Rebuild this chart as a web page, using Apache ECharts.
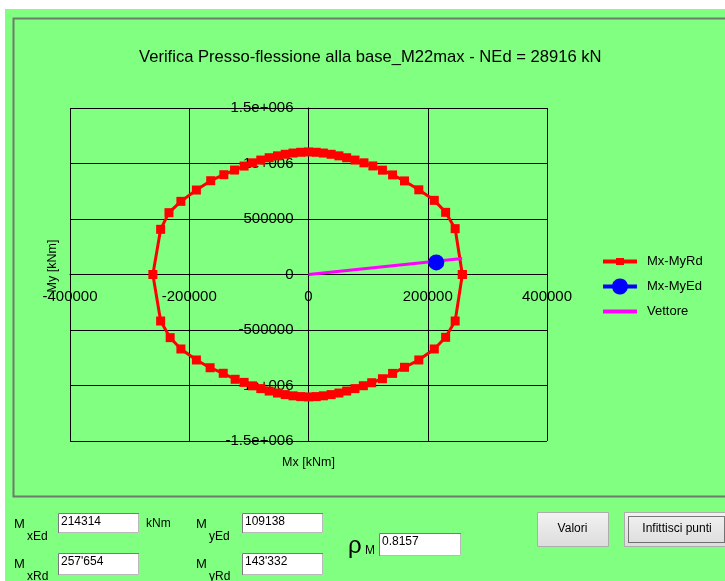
<!DOCTYPE html>
<html>
<head>
<meta charset="utf-8">
<script src="https://cdn.jsdelivr.net/npm/echarts@6/dist/echarts.min.js"></script>
<style>
html,body{margin:0;padding:0;background:#fff;}
#chart{width:725px;height:581px;}
</style>
</head>
<body>
<div id="chart"></div>
<script>
// ---- data ----
const titleText = 'Verifica Presso-flessione alla base_M22max - NEd = 28916 kN';
const seriesNames = ['Mx-MyRd', 'Mx-MyEd', 'Vettore'];
// resisting domain (Mx, My) in kNm
const domainMx = [258000, 246000, 230000, 211000, 185000, 161000, 141000, 124000, 108000, 93000, 78000, 64000, 51000, 38000, 25000, 13000, 0,
  -13000, -26000, -39000, -52000, -66000, -80000, -94000, -108000, -124000, -142000, -164000, -188000, -214000, -234000, -248000, -261000,
  -248000, -232000, -214000, -188000, -165000, -143000, -123000, -108000, -94000, -80000, -66000, -52000, -39000, -26000, -13000, 0,
  13000, 25000, 38000, 51000, 64000, 78000, 92000, 106000, 124000, 141000, 161000, 185000, 211000, 230000, 246000, 258000];
const domainMy = [0, 413000, 560000, 668000, 763000, 843000, 897000, 940000, 978000, 1006000, 1031000, 1052000, 1069000, 1083000, 1094000, 1101000, 1104000,
  1101000, 1094000, 1083000, 1069000, 1052000, 1031000, 1006000, 977000, 941000, 899000, 845000, 761000, 659000, 557000, 407000, 0,
  -419000, -569000, -671000, -770000, -840000, -890000, -944000, -972000, -1003000, -1028000, -1050000, -1068000, -1082000, -1093000, -1100000, -1103000,
  -1100000, -1093000, -1082000, -1068000, -1050000, -1028000, -1002000, -975000, -939000, -891000, -836000, -770000, -671000, -566000, -419000, 0];
// design action
const edMx = [214314];
const edMy = [109138];
// vector to the domain
const vecMx = [0, 257654];
const vecMy = [0, 143332];
// axes
const xTickValues = [-400000, -200000, 0, 200000, 400000];
const xTickLabels = ['-400000', '-200000', '0', '200000', '400000'];
const yTickValues = [-1500000, -1000000, -500000, 0, 500000, 1000000, 1500000];
const yTickLabels = ['-1.5e+006', '-1e+006', '-500000', '0', '500000', '1e+006', '1.5e+006'];
const xAxisName = 'Mx [kNm]';
const yAxisName = 'My [kNm]';
// form values
const formLabels = {MxEd: '214314', MyEd: '109138', MxRd: "257'654", MyRd: "143'332", rho: '0.8157'};
const unitText = 'kNm';
const buttonLabels = ['Valori', 'Infittisci punti'];

// ---- build ----
const FONT = 'Liberation Sans, Arial, sans-serif';
const GREEN = '#80ff80';
const zip = (a, b) => a.map((v, i) => [v, b[i]]);
const lbl = (vals, labs) => v => { const i = vals.indexOf(v); return i >= 0 ? labs[i] : ''; };

// grid geometry
const G = {left: 70, top: 108, width: 477, height: 333};
const X_MIN = -400000, X_MAX = 400000, Y_MIN = -1500000, Y_MAX = 1500000;
// axes sit on the zero lines of the other axis
const xAxisOffset = -(G.height * (0 - Y_MIN) / (Y_MAX - Y_MIN));
const yAxisOffset = -(G.width * (0 - X_MIN) / (X_MAX - X_MIN));

function textEl(x, y, txt, size, extra) {
  return {type: 'text', x: x, y: y, silent: true,
    style: Object.assign({text: txt, fill: '#000', font: size + 'px ' + FONT, textVerticalAlign: 'middle'}, extra || {})};
}
function box(x, y, w, h, txt) {
  return [
    {type: 'rect', shape: {x: x, y: y, width: w, height: h}, silent: true, style: {fill: '#fff'}},
    {type: 'polyline', shape: {points: [[x + 0.5, y + h], [x + 0.5, y + 0.5], [x + w, y + 0.5]]}, silent: true,
      style: {stroke: '#7a7a7a', lineWidth: 1, fill: null}},
    {type: 'polyline', shape: {points: [[x + w - 0.5, y + 1], [x + w - 0.5, y + h - 0.5], [x + 1, y + h - 0.5]]}, silent: true,
      style: {stroke: '#b9b9b9', lineWidth: 1, fill: null}},
    {type: 'text', x: x + 3, y: y + 3, silent: true,
      style: {text: txt, fill: '#000', font: '12px ' + FONT, textVerticalAlign: 'top'}}
  ];
}
function button(x, y, w, h, txt, focus) {
  const els = [
    {type: 'rect', shape: {x: x + 0.5, y: y + 0.5, width: w, height: h}, silent: true,
      style: {fill: {type: 'linear', x: 0, y: 0, x2: 0, y2: 1, colorStops: [{offset: 0, color: '#f2f2f2'}, {offset: 1, color: '#dcdcdc'}]},
        stroke: '#adadad', lineWidth: 1}},
    {type: 'text', x: focus ? x + 53 : x + w / 2, y: y + h / 2, silent: true,
      style: {text: txt, fill: '#000', font: '12px ' + FONT, textAlign: 'center', textVerticalAlign: 'middle'}}
  ];
  if (focus) {
    els.push({type: 'rect', shape: {x: x + 4.5, y: y + 4.5, width: 96, height: h - 8}, silent: true,
      style: {fill: null, stroke: '#000', lineWidth: 1, lineDash: [1, 1]}});
  }
  return els;
}

const graphics = [
  {type: 'rect', z: -10, shape: {x: 5, y: 9, width: 720, height: 572}, silent: true, style: {fill: GREEN}},
  {type: 'rect', z: -9, shape: {x: 13.5, y: 18.5, width: 730, height: 478}, silent: true, style: {fill: null, stroke: '#6f7a6f', lineWidth: 2}},
  {type: 'text', x: 53, y: 266, rotation: Math.PI / 2, silent: true,
    style: {text: yAxisName, fill: '#000', font: '12.5px ' + FONT, textAlign: 'center', textVerticalAlign: 'middle'}},
  textEl(14, 524, 'M', 13), textEl(27, 537, 'xEd', 12),
  textEl(146, 524, unitText, 12),
  textEl(196, 524, 'M', 13), textEl(209, 537, 'yEd', 12),
  textEl(14, 564, 'M', 13), textEl(27, 577, 'xRd', 12),
  textEl(196, 564, 'M', 13), textEl(209, 577, 'yRd', 12),
  textEl(348, 546, 'ρ', 24), textEl(365, 551, 'M', 12),
  ...box(58, 513, 81, 20, formLabels.MxEd),
  ...box(242, 513, 81, 20, formLabels.MyEd),
  ...box(58, 553, 81, 22, formLabels.MxRd),
  ...box(242, 553, 81, 22, formLabels.MyRd),
  ...box(379, 533, 82, 23, formLabels.rho),
  ...button(537, 512, 71, 34, buttonLabels[0], false),
  ...button(624, 512, 110, 34, buttonLabels[1], true)
];

// legend icons: line with marker (drawn as one filled path each)
const legendIcons = [
  'path://M0,6L13,6L13,4.5L21,4.5L21,6L34,6L34,10L21,10L21,11.5L13,11.5L13,10L0,10Z',
  'path://M0,6L9.25,6A8,8 0 0,1 24.75,6L34,6L34,10L24.75,10A8,8 0 0,1 9.25,10L0,10Z',
  'path://M0,6L34,6L34,10L0,10Z'
];

const chart = echarts.init(document.getElementById('chart'), null, {renderer: 'canvas'});
chart.setOption({
  animation: false,
  backgroundColor: '#fff',
  textStyle: {fontFamily: FONT},
  title: {text: titleText, left: 134, top: 44,
    textStyle: {fontSize: 16.6, fontWeight: 'normal', color: '#000', fontFamily: FONT}},
  legend: {orient: 'vertical', left: 598, top: 250, itemWidth: 34, itemHeight: 16, itemGap: 10.5,
    symbolKeepAspect: true,
    data: seriesNames.map((n, i) => ({name: n, icon: legendIcons[i]})),
    textStyle: {fontSize: 13, color: '#000', fontFamily: FONT, padding: [0, 0, 0, 5]}, selectedMode: false},
  grid: Object.assign({containLabel: false, outerBoundsMode: 'none'}, G),
  xAxis: {type: 'value', min: X_MIN, max: X_MAX, interval: 200000, position: 'bottom', offset: xAxisOffset,
    name: xAxisName, nameLocation: 'middle', nameGap: 182,
    nameTextStyle: {fontSize: 12.5, color: '#000', fontFamily: FONT},
    axisLine: {onZero: false, lineStyle: {color: '#000', width: 1}},
    axisTick: {show: false},
    axisLabel: {margin: 15, fontSize: 15, color: '#000', fontFamily: FONT, formatter: lbl(xTickValues, xTickLabels), showMinLabel: true, showMaxLabel: true},
    splitLine: {show: true, lineStyle: {color: '#000', width: 1}}},
  yAxis: {type: 'value', min: Y_MIN, max: Y_MAX, interval: 500000, position: 'left', offset: yAxisOffset,
    axisLine: {onZero: false, lineStyle: {color: '#000', width: 1}},
    axisTick: {show: false},
    axisLabel: {margin: 15, fontSize: 15, color: '#000', fontFamily: FONT, formatter: lbl(yTickValues, yTickLabels), showMinLabel: true, showMaxLabel: true},
    splitLine: {show: true, lineStyle: {color: '#000', width: 1}}},
  graphic: graphics,
  series: [
    {name: seriesNames[0], type: 'line', data: zip(domainMx, domainMy), color: '#ff0000',
      symbol: 'rect', symbolSize: 9, showAllSymbol: true, lineStyle: {color: '#ff0000', width: 3},
      itemStyle: {color: '#ff0000'}, z: 3},
    {name: seriesNames[1], type: 'line', data: zip(edMx, edMy), color: '#0000ff',
      symbol: 'circle', symbolSize: 16, lineStyle: {color: '#0000ff', width: 3},
      itemStyle: {color: '#0000ff'}, z: 5},
    {name: seriesNames[2], type: 'line', data: zip(vecMx, vecMy), color: '#ff00ff',
      symbol: 'none', lineStyle: {color: '#ff00ff', width: 3}, z: 4}
  ]
});
</script>
</body>
</html>
